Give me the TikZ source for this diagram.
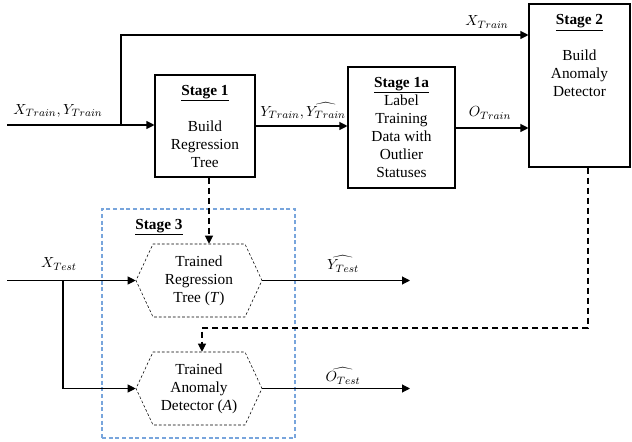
\documentclass[tikz,border=0pt]{standalone}
\usepackage{fontspec}
\setmainfont{Liberation Serif}
\usepackage{xcolor}
\usepackage{tikz}
\usetikzlibrary{positioning,shapes,arrows.meta}
\definecolor{stageblue}{RGB}{120,165,220}

\begin{document}
\begin{tikzpicture}
[x=0.75pt, y=-0.75pt, font=\fontsize{11.5}{13.5}\selectfont,
    every node/.style={align=center, inner sep=1pt},
    stagebox/.style={rectangle, draw=black, thick},
    trained/.style={signal, signal to=east and west, signal pointer angle=130,
        draw=black, thin, dash pattern=on 2pt off 1.5pt,
        minimum width=94.5pt, minimum height=54.75pt},
    flow/.style={draw=black, thick, -{Triangle[length=6pt,width=6pt]}},
    dashflow/.style={flow, dash pattern=on 4.5pt off 3pt},
    mathlbl/.style={font=\fontsize{11}{13}\selectfont}
    ]
    \useasboundingbox (0,0) rectangle (632,442);

    \node[stagebox, minimum width=75pt, minimum height=76.5pt] (s1) at (205,126)
        {\underline{\textbf{Stage 1}}\\[13.5pt]Build\\Regression\\Tree};
    \node[stagebox, minimum width=80.25pt, minimum height=90.75pt] (s1a) at (401.5,127.5)
        {\underline{\textbf{Stage 1a}}\\Label\\Training\\Data with\\Outlier\\Statuses};
    \node[stagebox, minimum width=75.75pt, minimum height=122.25pt] (s2) at (579.5,85.5) {};
    \node[anchor=north] (s2text) at (579.5,13)
        {\underline{\textbf{Stage 2}}\\[13.5pt]Build\\Anomaly\\Detector};

    \node[draw=stageblue, thick, dash pattern=on 3pt off 2pt,
        minimum width=144.75pt, minimum height=171.75pt] (s3) at (198.5,323.5) {};
    \node (s3text) at (159,227) {\underline{\textbf{Stage 3}}};
    \node[trained] (tree) at (199,280.5) {Trained\\Regression\\Tree (\textit{T})};
    \node[trained] (detector) at (199,388.5) {Trained\\Anomaly\\Detector (\textit{A})};

    \coordinate (trainin) at (7,125);
    \coordinate (split) at (121,125);
    \coordinate (testin) at (7,280.5);
    \coordinate (testsplit) at (63,280.5);
    \coordinate (treeout) at (410,280.5);
    \coordinate (detout) at (410,388.5);

    \draw[flow] (trainin) -- (trainin -| s1.west);
    \draw[flow] (split) |- (s2.west |- 0,35);
    \draw[flow] (s1.east |- 0,126) -- (s1a.west |- 0,126);
    \draw[flow] (s1a.east |- 0,128) -- (s2.west |- 0,128);
    \draw[dashflow] (s1.south -| 209,0) -- (tree.north -| 209,0);
    \draw[dashflow] (s2.south -| 588,0) |- (202,328) -- (detector.north -| 202,0);
    \draw[flow] (testin) -- (tree.west);
    \draw[flow] (testsplit) |- (detector.west);
    \draw[flow] (tree.east) -- (treeout);
    \draw[flow] (detector.east) -- (detout);

    \node[mathlbl] (lxy) at (58,111) {$X_{Train}, Y_{Train}$};
    \node[mathlbl] (lyy) at (303,111) {$Y_{Train}, \widehat{Y_{Train}}$};
    \node[mathlbl] (lx) at (487,22) {$X_{Train}$};
    \node[mathlbl] (lo) at (490,113) {$O_{Train}$};
    \node[mathlbl] (lxt) at (59,264) {$X_{Test}$};
    \node[mathlbl] (lyt) at (343,264) {$\widehat{Y_{Test}}$};
    \node[mathlbl] (lot) at (343,376) {$\widehat{O_{Test}}$};
\end{tikzpicture}
\end{document}
